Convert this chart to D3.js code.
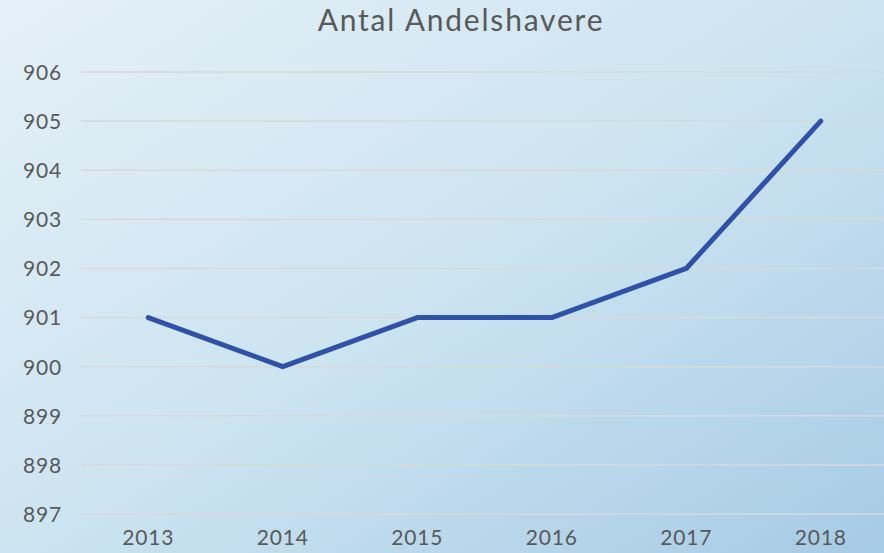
<!DOCTYPE html>
<html><head><meta charset="utf-8">
<script src="https://cdn.jsdelivr.net/npm/d3@7"></script>
<style>html,body{margin:0;padding:0;overflow:hidden;}</style>
</head><body>
<script>
const years = ["2013","2014","2015","2016","2017","2018"];
const members = [901, 900, 901, 901, 902, 905];
const yTicks = [897,898,899,900,901,902,903,904,905,906];
const title = "Antal Andelshavere";

const W = 884, H = 553;
const svg = d3.select("body").append("svg").attr("width", W).attr("height", H);
const defs = svg.append("defs");
const g = defs.append("linearGradient").attr("id","bg").attr("x1","0%").attr("y1","0%").attr("x2","100%").attr("y2","100%");
g.append("stop").attr("offset","0%").attr("stop-color","#e4f0f7");
g.append("stop").attr("offset","50%").attr("stop-color","#cde4f1");
g.append("stop").attr("offset","100%").attr("stop-color","#a6cbe5");
svg.append("rect").attr("width",W).attr("height",H).attr("fill","url(#bg)");

const font = "'Century Gothic','URW Gothic','Lato','DejaVu Sans',sans-serif";
const x = d3.scaleBand().domain(years).range([81, 888]);
const y = d3.scaleLinear().domain([897, 906]).range([514, 72]);

const grid = svg.append("g");
grid.selectAll("line").data(yTicks).join("line")
  .attr("x1", 81).attr("x2", 888)
  .attr("y1", d => y(d)).attr("y2", d => y(d))
  .attr("stroke", "#d9d9d9").attr("stroke-width", 1.5);

const yAxis = svg.append("g").attr("transform","translate(62,0)")
  .call(d3.axisLeft(y).tickValues(yTicks).tickSize(0).tickPadding(0).tickFormat(d3.format("d")));
yAxis.select(".domain").remove();
yAxis.selectAll("text").attr("font-family", font).attr("font-size", 21).attr("letter-spacing", 0.8)
  .attr("fill", "#595959").attr("dy","0.35em");

const xAxis = svg.append("g").attr("transform","translate(0,530)")
  .call(d3.axisBottom(x).tickSize(0).tickPadding(0));
xAxis.select(".domain").remove();
xAxis.selectAll("text").attr("font-family", font).attr("font-size", 21).attr("letter-spacing", 0.8)
  .attr("fill", "#595959").attr("dy","0.71em");

const line = d3.line().x((d,i) => x(years[i]) + x.bandwidth()/2).y(d => y(d));
svg.append("path").datum(members).attr("d", line)
  .attr("fill","none").attr("stroke","#2f52a8").attr("stroke-width",5)
  .attr("stroke-linejoin","round").attr("stroke-linecap","round");

svg.append("text").attr("x", 461).attr("y", 31).attr("text-anchor","middle")
  .attr("font-family", font).attr("font-size", 30).attr("letter-spacing", 1.8)
  .attr("fill","#595959").text(title);
</script>
</body></html>
